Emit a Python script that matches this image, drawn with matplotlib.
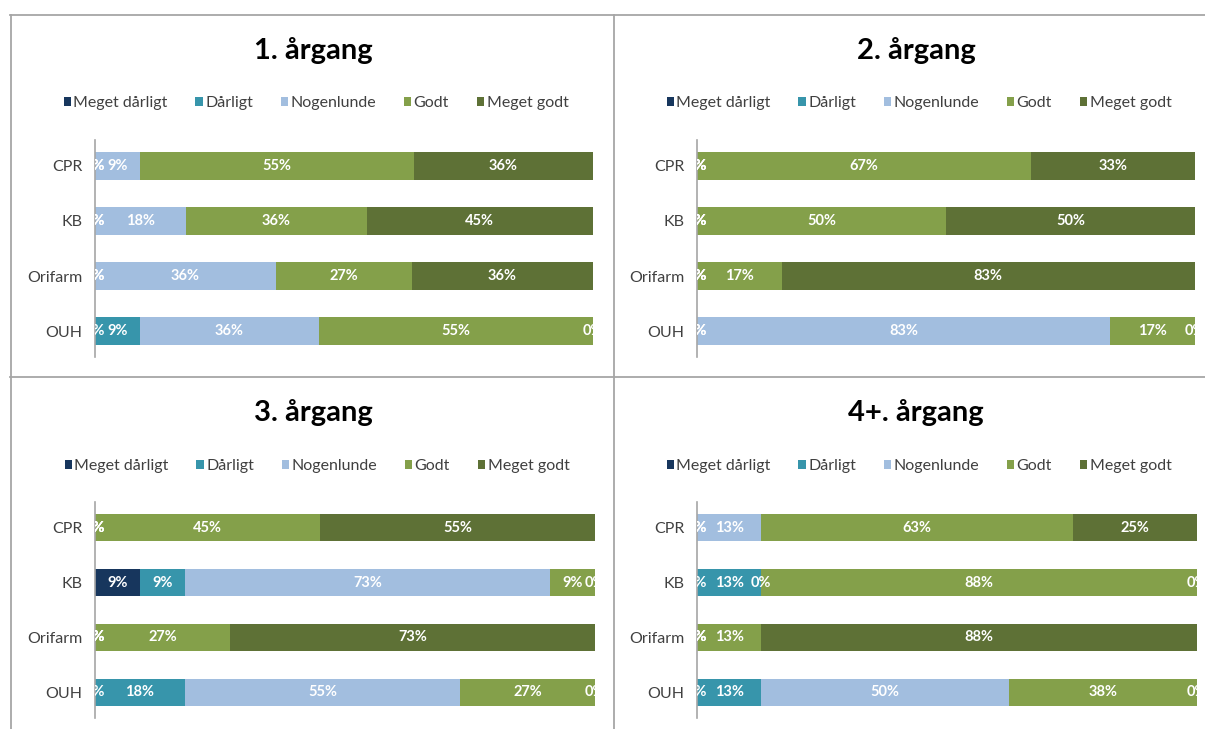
import matplotlib.pyplot as plt
from matplotlib.lines import Line2D
import numpy as np

plt.rcParams['font.family'] = ['Lato', 'DejaVu Sans']

# Data (percent of answers per company, columns follow `levels`)
categories = ['CPR', 'KB', 'Orifarm', 'OUH']
levels = ['Meget dårligt', 'Dårligt', 'Nogenlunde', 'Godt', 'Meget godt']
colors = ['#17365D', '#3795AB', '#A2BEDF', '#84A04A', '#5E7136']
titles = ['1. årgang', '2. årgang', '3. årgang', '4+. årgang']

aargang1 = [[0, 0, 9, 55, 36],
            [0, 0, 18, 36, 45],
            [0, 0, 36, 27, 36],
            [0, 9, 36, 55, 0]]
aargang2 = [[0, 0, 0, 67, 33],
            [0, 0, 0, 50, 50],
            [0, 0, 0, 17, 83],
            [0, 0, 83, 17, 0]]
aargang3 = [[0, 0, 0, 45, 55],
            [9, 9, 73, 9, 0],
            [0, 0, 0, 27, 73],
            [0, 18, 55, 27, 0]]
aargang4 = [[0, 0, 13, 63, 25],
            [0, 13, 0, 88, 0],
            [0, 0, 0, 13, 88],
            [0, 13, 50, 38, 0]]
panels = [aargang1, aargang2, aargang3, aargang4]

W, H = 1205, 729
fig = plt.figure(figsize=(W / 100, H / 100), dpi=100)

# layout in pixels: axes box (left, top, right, bottom), title centre, legend centre
boxes = [(95, 140, 593, 357), (697, 140, 1195, 357),
         (95, 502, 595, 718), (697, 502, 1197, 718)]
title_pos = [(313, 51), (916, 51), (313, 413), (916, 413)]
legend_pos = [(316, 102), (919, 102), (317, 465), (919, 465)]


def fx(x):
    return x / W


def fy(y):
    return 1 - y / H


for data, title, box, tpos, lpos in zip(panels, titles, boxes, title_pos, legend_pos):
    l, t, r, b = box
    ax = fig.add_axes([fx(l), fy(b), fx(r) - fx(l), fy(t) - fy(b)])
    vals = np.array(data, dtype=float)
    shares = vals / vals.sum(axis=1, keepdims=True)
    y = np.arange(len(categories))
    left = np.zeros(len(categories))
    for j, lev in enumerate(levels):
        ax.barh(y, shares[:, j], left=left, height=0.5, color=colors[j], label=lev)
        for i in range(len(categories)):
            ax.text(left[i] + shares[i, j] / 2, y[i], f'{int(vals[i, j])}%',
                    ha='center', va='center', color='white', fontsize=10.5,
                    fontweight='bold', clip_on=True)
        left += shares[:, j]

    ax.set_xlim(0, 1)
    ax.set_ylim(3.47, -0.47)
    ax.set_yticks(y)
    ax.set_yticklabels(categories, fontsize=11.5, color='#404040')
    ax.set_xticks([])
    ax.tick_params(axis='y', length=0, pad=9)
    for s in ['top', 'right', 'bottom']:
        ax.spines[s].set_visible(False)
    ax.spines['left'].set_color('#A6A6A6')
    ax.spines['left'].set_linewidth(1.2)

    fig.text(fx(tpos[0]), fy(tpos[1]), title, ha='center', va='center',
             fontsize=21, fontweight='bold', color='black')
    ax.legend(loc='center', bbox_to_anchor=(fx(lpos[0]), fy(lpos[1] + 1)),
              bbox_transform=fig.transFigure, ncol=5, frameon=False,
              fontsize=11.5, labelcolor='#404040', handlelength=0.45,
              handleheight=0.45, handletextpad=0.15, columnspacing=1.75)

# panel borders
border = dict(color='#A6A6A6', linewidth=1.3, transform=fig.transFigure)
fig.add_artist(Line2D([fx(10), 1], [fy(15), fy(15)], **border))
fig.add_artist(Line2D([fx(10), 1], [fy(377), fy(377)], **border))
fig.add_artist(Line2D([fx(11), fx(11)], [fy(15), 0], **border))
fig.add_artist(Line2D([fx(614), fx(614)], [fy(15), 0], **border))

fig.savefig('out.png', dpi=100)
